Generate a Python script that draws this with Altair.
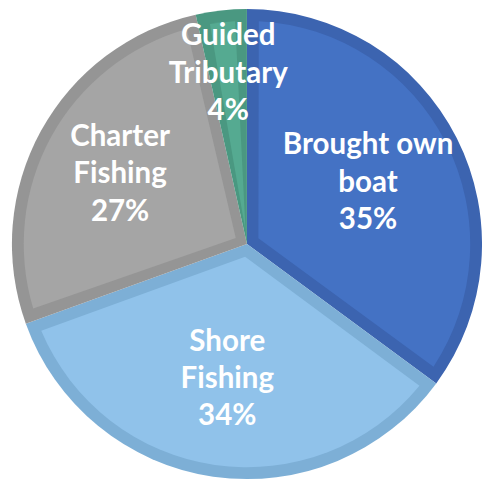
import altair as alt
import pandas as pd

categories = ["Brought own boat", "Shore Fishing", "Charter Fishing", "Guided Tributary"]
shares = [35.1, 34.4, 27.0, 3.5]
pct_labels = ["35%", "34%", "27%", "4%"]
label_lines = [["Brought own", "boat"], ["Shore", "Fishing"], ["Charter", "Fishing"], ["Guided", "Tributary"]]

fill_colors = ["#4472C4", "#90C2EA", "#A5A5A5", "#55AA91"]
band_colors = ["#3C64B0", "#7DAFD6", "#959595", "#4A9881"]

df = pd.DataFrame({
    "category": categories,
    "share": shares,
    "order": list(range(len(categories))),
    "label": ["\n".join(l + [p]) for l, p in zip(label_lines, pct_labels)],
})

cx, cy = 243, 236
base = alt.Chart(df).encode(
    theta=alt.Theta("share:Q", stack=True),
    order=alt.Order("order:Q"),
    x=alt.value(cx),
    y=alt.value(cy),
)

band = base.mark_arc(outerRadius=239).encode(
    color=alt.Color("category:N", scale=alt.Scale(domain=categories, range=band_colors), legend=None)
)
fill = base.mark_arc(outerRadius=227, innerRadius=13, padAngle=0.106).encode(
    color=alt.Color("category:N", scale=alt.Scale(domain=categories, range=fill_colors), legend=None)
)
# best-fit style label placement: smaller slices get labels further out
text = base.mark_text(
    font="Lato", fontSize=30, fontWeight="bold", color="white",
    lineBreak="\n", lineHeight=38, align="center", baseline="middle", dy=-38
).encode(
    text="label:N",
    radius=alt.Radius("share:Q", scale=alt.Scale(type="linear", domain=[3.5, 35.1], range=[174, 138], zero=False)),
)

chart = alt.layer(band, fill, text).resolve_scale(color="independent").properties(
    width=482, height=478, autosize=alt.AutoSizeParams(type="none"), padding=0
).configure_view(strokeWidth=0)

chart.save("out.html", embed_options={"renderer": "svg", "actions": False})
